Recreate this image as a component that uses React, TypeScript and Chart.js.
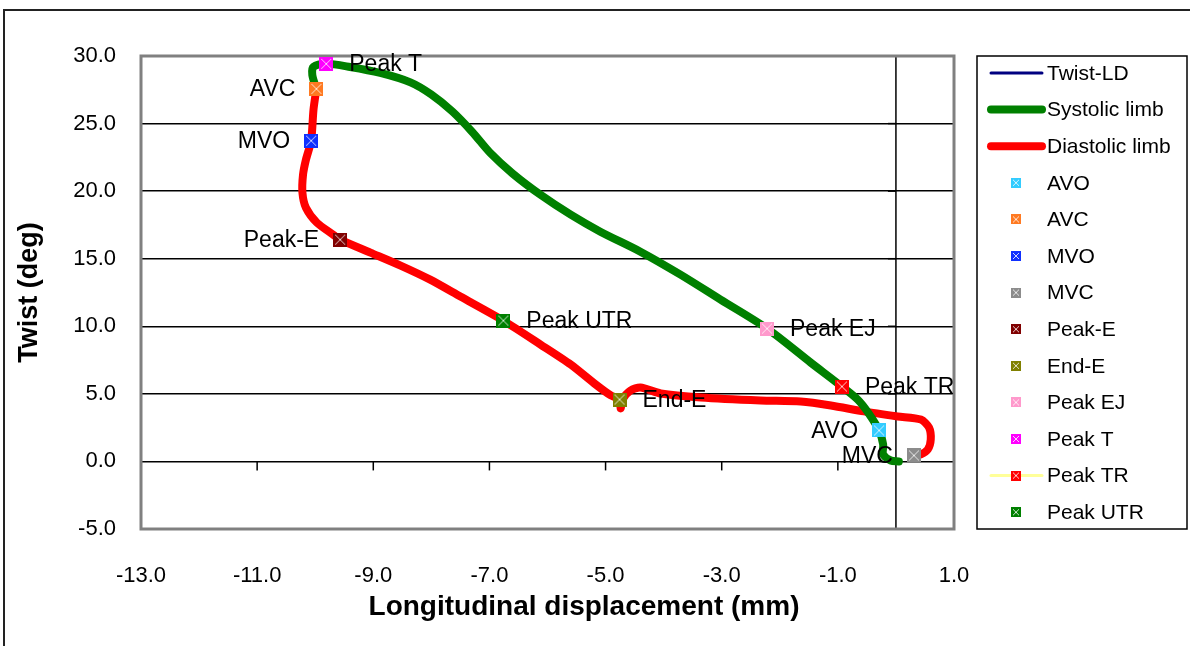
import React, { useEffect, useRef } from 'react';
import { Chart, registerables } from 'chart.js';

Chart.register(...registerables);

// ---- data ----
const systolicX = [0.05, -0.09, -0.22, -0.22, -0.29, -0.48, -0.66, -0.93, -1.47, -2.22, -3.02, -3.71, -4.40, -5.09, -5.60, -6.12, -6.60, -6.98, -7.30, -7.64, -8.00, -8.36, -8.88, -9.40, -9.81, -10.03, -10.05, -9.98];
const systolicY = [0.0, 0.07, 0.52, 1.26, 2.29, 3.62, 4.58, 5.54, 7.32, 9.83, 11.97, 13.82, 15.52, 17.0, 18.26, 19.73, 21.30, 22.80, 24.40, 25.90, 27.15, 28.05, 28.75, 29.19, 29.42, 29.19, 28.6, 27.57];

const diastolicX = [-9.98, -10.03, -10.07, -10.16, -10.21, -10.22, -10.16, -9.97, -9.69, -9.57, -9.05, -8.53, -8.02, -7.50, -6.76, -6.12, -5.60, -5.17, -4.91, -4.76, -4.74, -4.71, -4.57, -4.40, -4.05, -3.36, -2.33, -1.64, -1.12, -0.55, 0.03, 0.43, 0.57, 0.60, 0.55, 0.43, 0.31];
const diastolicY = [27.57, 26.02, 23.73, 22.32, 21.21, 19.88, 18.77, 17.66, 16.78, 16.41, 15.45, 14.49, 13.45, 12.20, 10.42, 8.65, 7.17, 5.69, 4.88, 4.58, 3.92, 4.58, 5.25, 5.47, 5.03, 4.73, 4.51, 4.43, 4.14, 3.70, 3.33, 3.10, 2.51, 1.63, 0.89, 0.52, 0.44];

const markerNames = ['AVO', 'AVC', 'MVO', 'MVC', 'Peak-E', 'End-E', 'Peak EJ', 'Peak T', 'Peak TR', 'Peak UTR'];
const markerLabels = ['AVO', 'AVC', 'MVO', 'MVC', 'Peak-E', 'End-E', 'Peak EJ', 'Peak T', 'Peak TR', 'Peak UTR'];
const markerX = [-0.29, -9.98, -10.07, 0.31, -9.57, -4.76, -2.22, -9.81, -0.93, -6.76];
const markerY = [2.29, 27.57, 23.73, 0.44, 16.41, 4.58, 9.83, 29.42, 5.54, 10.42];

const xTicks = [-13, -11, -9, -7, -5, -3, -1, 1];
const yTicks = [-5, 0, 5, 10, 15, 20, 25, 30];

// ---- styles ----
const markerColors = ['#33CCFF', '#FF7A22', '#1030FF', '#8C8C8C', '#800000', '#808000', '#FF99CC', '#FF00FF', '#FF0000', '#008000'];
const labelSide = ['left', 'left', 'left', 'left', 'left', 'right', 'right', 'right', 'right', 'right'];
const FONT = "'Liberation Sans', Arial, sans-serif";

function makeMarker(color: string, size: number) {
  const c = document.createElement('canvas');
  c.width = size;
  c.height = size;
  const g = c.getContext('2d')!;
  g.fillStyle = color;
  g.fillRect(0, 0, size, size);
  g.strokeStyle = 'rgba(255,255,255,0.8)';
  g.lineWidth = 1;
  g.beginPath();
  g.moveTo(2, 2);
  g.lineTo(size - 2, size - 2);
  g.moveTo(size - 2, 2);
  g.lineTo(2, size - 2);
  g.stroke();
  return c;
}

const zip = (xs: number[], ys: number[]) => xs.map((x, i) => ({ x, y: ys[i] }));

export default function App() {
  const ref = useRef<HTMLCanvasElement | null>(null);

  useEffect(() => {
    if (!ref.current) return;

    const decorPlugin = {
      id: 'decor',
      beforeDatasetsDraw(chart: any) {
        const { ctx, chartArea: a, scales } = chart;
        const x0 = scales.x.getPixelForValue(0);
        const y0 = scales.y.getPixelForValue(0);
        ctx.save();
        ctx.strokeStyle = '#000';
        ctx.lineWidth = 1.5;
        ctx.beginPath();
        ctx.moveTo(x0, a.top);
        ctx.lineTo(x0, a.bottom);
        ctx.stroke();
        yTicks.forEach((v) => {
          const py = scales.y.getPixelForValue(v);
          ctx.beginPath();
          ctx.moveTo(x0 - 8, py);
          ctx.lineTo(x0, py);
          ctx.stroke();
        });
        xTicks.forEach((v) => {
          const px = scales.x.getPixelForValue(v);
          ctx.beginPath();
          ctx.moveTo(px, y0);
          ctx.lineTo(px, y0 + 9);
          ctx.stroke();
        });
        ctx.strokeStyle = '#808080';
        ctx.lineWidth = 3;
        ctx.strokeRect(a.left, a.top, a.right - a.left, a.bottom - a.top);
        ctx.restore();
      },
      afterDatasetsDraw(chart: any) {
        const { ctx, scales } = chart;
        ctx.save();
        ctx.font = `23px ${FONT}`;
        ctx.fillStyle = '#000';
        ctx.textBaseline = 'middle';
        markerLabels.forEach((t, i) => {
          const px = scales.x.getPixelForValue(markerX[i]);
          const py = scales.y.getPixelForValue(markerY[i]);
          if (labelSide[i] === 'left') {
            ctx.textAlign = 'right';
            ctx.fillText(t, px - 21, py + 1);
          } else {
            ctx.textAlign = 'left';
            ctx.fillText(t, px + 23, py + 1);
          }
        });
        ctx.restore();
      },
      afterDraw(chart: any) {
        const { ctx } = chart;
        ctx.save();
        ctx.strokeStyle = '#222';
        ctx.lineWidth = 2;
        ctx.beginPath();
        ctx.moveTo(4, 646);
        ctx.lineTo(4, 10);
        ctx.lineTo(1190, 10);
        ctx.stroke();

        ctx.font = `bold 28px ${FONT}`;
        ctx.fillStyle = '#000';
        ctx.textAlign = 'center';
        ctx.textBaseline = 'middle';
        ctx.fillText('Longitudinal displacement (mm)', 584, 607);

        const lx = 977, ly = 56, lw = 210, lh = 473;
        ctx.strokeStyle = '#000';
        ctx.lineWidth = 1.5;
        ctx.strokeRect(lx, ly, lw, lh);
        ctx.font = `21px ${FONT}`;
        ctx.textAlign = 'left';
        chart.data.datasets.forEach((ds: any, i: number) => {
          const cy = 73 + i * 36.6;
          if (ds.legendLine) {
            ctx.strokeStyle = ds.legendLine;
            ctx.lineWidth = ds.legendWidth;
            ctx.lineCap = 'round';
            ctx.beginPath();
            ctx.moveTo(991, cy);
            ctx.lineTo(1042, cy);
            ctx.stroke();
          }
          if (ds.legendMarker) {
            ctx.drawImage(ds.legendMarker, 1016 - 5, cy - 5, 10, 10);
          }
          ctx.fillStyle = '#000';
          ctx.fillText(ds.label, 1047, cy + 1);
        });
        ctx.restore();
      },
    };

    const markerDatasets = markerNames.map((name, i) => ({
      label: name,
      data: [{ x: markerX[i], y: markerY[i] }],
      pointStyle: makeMarker(markerColors[i], 14),
      pointRadius: 7,
      showLine: false,
      order: 0,
      legendMarker: makeMarker(markerColors[i], 10),
      legendLine: name === 'Peak TR' ? '#FFFF99' : null,
      legendWidth: 3,
    }));

    const chart = new Chart(ref.current, {
      type: 'scatter',
      data: {
        datasets: [
          {
            label: 'Twist-LD',
            data: [...zip(systolicX, systolicY), ...zip(diastolicX, diastolicY)],
            showLine: true,
            borderColor: '#000080',
            borderWidth: 2,
            pointRadius: 0,
            tension: 0.3,
            order: 3,
            legendLine: '#000080',
            legendWidth: 3,
          } as any,
          {
            label: 'Systolic limb',
            data: zip(systolicX, systolicY),
            showLine: true,
            borderColor: '#008000',
            borderWidth: 8,
            borderCapStyle: 'round',
            borderJoinStyle: 'round',
            pointRadius: 0,
            tension: 0.3,
            order: 1,
            legendLine: '#008000',
            legendWidth: 8,
          },
          {
            label: 'Diastolic limb',
            data: zip(diastolicX, diastolicY),
            showLine: true,
            borderColor: '#FF0000',
            borderWidth: 8,
            borderCapStyle: 'round',
            borderJoinStyle: 'round',
            pointRadius: 0,
            tension: 0.25,
            order: 2,
            legendLine: '#FF0000',
            legendWidth: 8,
          },
          ...markerDatasets,
        ] as any,
      },
      options: {
        responsive: false,
        animation: false,
        events: [],
        layout: { padding: { top: 56, right: 236, left: 0, bottom: 0 } },
        plugins: { legend: { display: false }, tooltip: { enabled: false } },
        scales: {
          x: {
            type: 'linear',
            min: -13,
            max: 1,
            afterBuildTicks: (s: any) => {
              s.ticks = xTicks.map((v) => ({ value: v }));
            },
            afterFit: (s: any) => {
              s.height = 117;
            },
            grid: { display: false, drawTicks: false },
            border: { display: false },
            ticks: {
              padding: 34,
              maxRotation: 0,
              autoSkip: false,
              color: '#000',
              font: { family: FONT, size: 22 },
              callback: (v: any) => Number(v).toFixed(1),
            },
          },
          y: {
            type: 'linear',
            min: -5,
            max: 30,
            afterBuildTicks: (s: any) => {
              s.ticks = yTicks.map((v) => ({ value: v }));
            },
            afterFit: (s: any) => {
              s.width = 141;
            },
            grid: {
              drawTicks: false,
              lineWidth: 1.5,
              color: (c: any) => (c.tick && (c.tick.value === 30 || c.tick.value === -5) ? 'rgba(0,0,0,0)' : '#000'),
            },
            border: { display: false },
            title: {
              display: true,
              text: 'Twist (deg)',
              color: '#000',
              font: { family: FONT, size: 27, weight: 'bold' },
              padding: { top: 13, bottom: 0 },
            },
            ticks: {
              padding: 25,
              autoSkip: false,
              color: '#000',
              font: { family: FONT, size: 22 },
              callback: (v: any) => Number(v).toFixed(1),
            },
          },
        },
      } as any,
      plugins: [decorPlugin],
    });

    return () => chart.destroy();
  }, []);

  return (
    <div style={{ position: 'absolute', left: 0, top: 0, width: 1190, height: 646, background: '#fff' }}>
      <canvas ref={ref} width={1190} height={646} style={{ display: 'block' }} />
    </div>
  );
}
